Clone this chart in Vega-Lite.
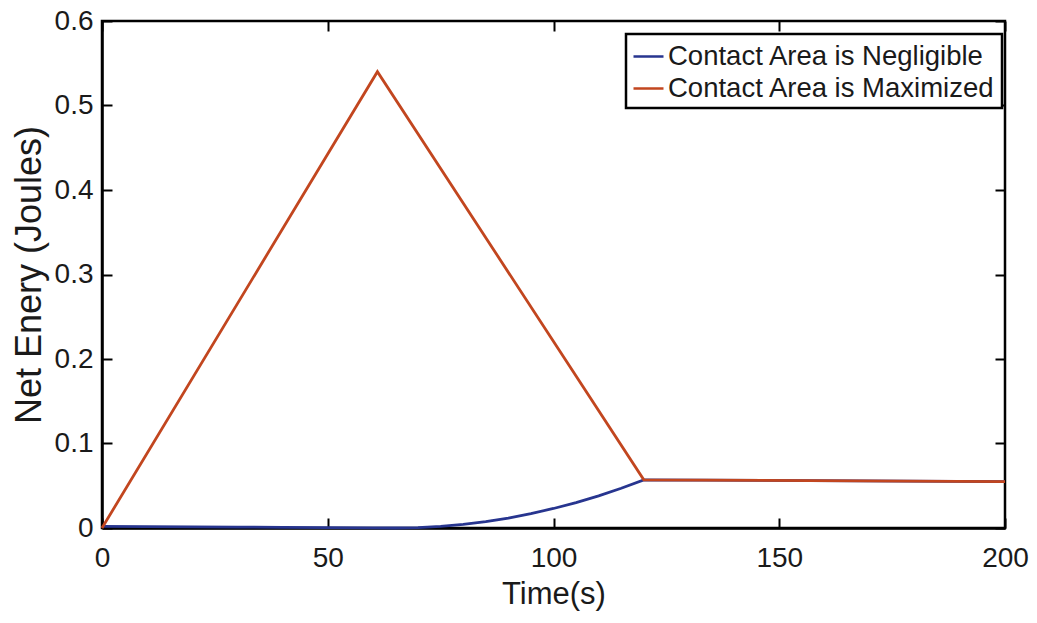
{
  "$schema": "https://vega.github.io/schema/vega-lite/v6.json",
  "width": 903,
  "height": 507,
  "autosize": {"type": "none"},
  "padding": {"left": 102, "top": 21, "right": 32, "bottom": 95},
  "background": "white",
  "config": {
    "font": "Liberation Sans",
    "view": {"stroke": "black", "strokeWidth": 2.5},
    "axis": {
      "domainColor": "black",
      "domainWidth": 2.5,
      "tickColor": "black",
      "tickWidth": 2,
      "tickSize": -10,
      "grid": false,
      "labelFont": "Liberation Sans",
      "labelFontSize": 28,
      "labelColor": "#1a1a1a",
      "titleFont": "Liberation Sans",
      "titleFontWeight": "normal",
      "titleColor": "#1a1a1a"
    },
    "legend": {
      "orient": "none",
      "legendX": 524,
      "legendY": 13,
      "strokeColor": "black",
      "strokeWidth": 2.5,
      "fillColor": "white",
      "padding": 6,
      "symbolType": "stroke",
      "symbolSize": 900,
      "symbolStrokeWidth": 2.5,
      "labelFontSize": 27.5,
      "labelFont": "Liberation Sans",
      "labelColor": "#1a1a1a",
      "labelLimit": 0,
      "labelOffset": 3,
      "rowPadding": 2,
      "title": null
    }
  },
  "data": {
    "values": [
      {"t": 0, "energy": 0.002, "series": "Contact Area is Negligible"},
      {"t": 10, "energy": 0.0017, "series": "Contact Area is Negligible"},
      {"t": 20, "energy": 0.0014, "series": "Contact Area is Negligible"},
      {"t": 30, "energy": 0.0011, "series": "Contact Area is Negligible"},
      {"t": 40, "energy": 0.0008, "series": "Contact Area is Negligible"},
      {"t": 50, "energy": 0.0005, "series": "Contact Area is Negligible"},
      {"t": 60, "energy": 0.0002, "series": "Contact Area is Negligible"},
      {"t": 65, "energy": 0.0, "series": "Contact Area is Negligible"},
      {"t": 70, "energy": 0.0005, "series": "Contact Area is Negligible"},
      {"t": 75, "energy": 0.0019, "series": "Contact Area is Negligible"},
      {"t": 80, "energy": 0.0042, "series": "Contact Area is Negligible"},
      {"t": 85, "energy": 0.0075, "series": "Contact Area is Negligible"},
      {"t": 90, "energy": 0.0118, "series": "Contact Area is Negligible"},
      {"t": 95, "energy": 0.017, "series": "Contact Area is Negligible"},
      {"t": 100, "energy": 0.0231, "series": "Contact Area is Negligible"},
      {"t": 105, "energy": 0.0301, "series": "Contact Area is Negligible"},
      {"t": 110, "energy": 0.0381, "series": "Contact Area is Negligible"},
      {"t": 115, "energy": 0.047, "series": "Contact Area is Negligible"},
      {"t": 120, "energy": 0.057, "series": "Contact Area is Negligible"},
      {"t": 200, "energy": 0.055, "series": "Contact Area is Negligible"},
      {"t": 0, "energy": 0.0, "series": "Contact Area is Maximized"},
      {"t": 61, "energy": 0.54, "series": "Contact Area is Maximized"},
      {"t": 120, "energy": 0.057, "series": "Contact Area is Maximized"},
      {"t": 200, "energy": 0.055, "series": "Contact Area is Maximized"}
    ]
  },
  "layer": [
    {
      "mark": {"type": "line", "strokeWidth": 2.8},
      "encoding": {
        "x": {
          "field": "t",
          "type": "quantitative",
          "scale": {"domain": [0, 200], "nice": false},
          "axis": {"values": [0, 50, 100, 150, 200], "title": "Time(s)", "titleFontSize": 31, "labelPadding": 26, "titlePadding": 7, "labelFlush": false}
        },
        "y": {
          "field": "energy",
          "type": "quantitative",
          "scale": {"domain": [0, 0.6], "nice": false, "zero": true},
          "axis": {"values": [0, 0.1, 0.2, 0.3, 0.4, 0.5, 0.6], "format": ".1~f", "title": "Net Enery (Joules)", "titleFontSize": 36, "labelPadding": 19, "titlePadding": 6, "labelFlush": false}
        },
        "color": {
          "field": "series",
          "type": "nominal",
          "sort": ["Contact Area is Negligible", "Contact Area is Maximized"],
          "scale": {"domain": ["Contact Area is Negligible", "Contact Area is Maximized"], "range": ["#27358f", "#c2461f"]}
        },
        "order": {"field": "t", "type": "quantitative"}
      }
    },
    {
      "mark": {"type": "line", "opacity": 0},
      "encoding": {
        "x": {
          "field": "t",
          "type": "quantitative",
          "axis": {"orient": "top", "values": [0, 50, 100, 150, 200], "labels": false, "title": null, "domain": false}
        },
        "y": {
          "field": "energy",
          "type": "quantitative",
          "axis": {"orient": "right", "values": [0, 0.1, 0.2, 0.3, 0.4, 0.5, 0.6], "labels": false, "title": null, "domain": false}
        }
      }
    }
  ],
  "resolve": {"axis": {"x": "independent", "y": "independent"}}
}
